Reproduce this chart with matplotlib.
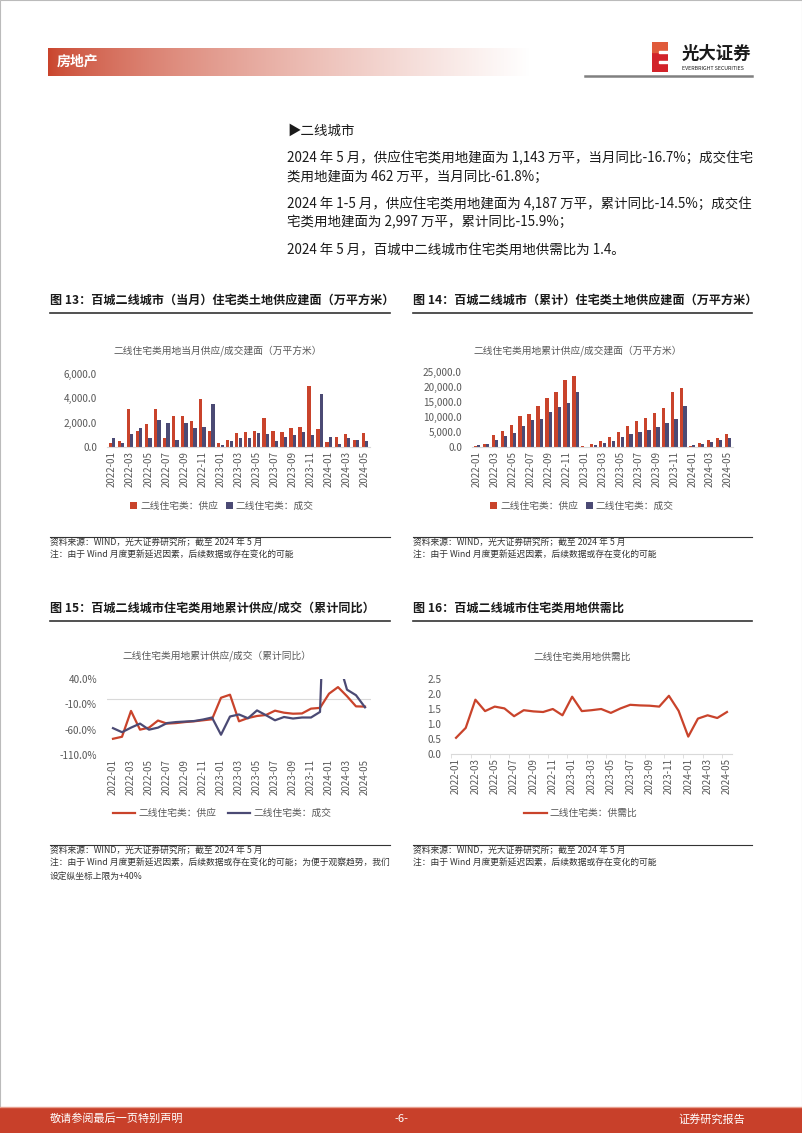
import numpy as np
import matplotlib
matplotlib.use("Agg")
import matplotlib.pyplot as plt
from matplotlib.ticker import FuncFormatter
from matplotlib.patches import Rectangle

plt.rcParams['font.family'] = ['Noto Sans CJK SC', 'DejaVu Sans']

# ---- data ----
months = ["2022-01", "2022-02", "2022-03", "2022-04", "2022-05", "2022-06", "2022-07", "2022-08",
          "2022-09", "2022-10", "2022-11", "2022-12", "2023-01", "2023-02", "2023-03", "2023-04",
          "2023-05", "2023-06", "2023-07", "2023-08", "2023-09", "2023-10", "2023-11", "2023-12",
          "2024-01", "2024-02", "2024-03", "2024-04", "2024-05"]

# 当月供应 / 成交 (万平方米)
supply_month = [350, 500, 3100, 1300, 1900, 3150, 700, 2550, 2550, 2150, 3950, 1350,
                350, 550, 1150, 1200, 1350, 2350, 1350, 1250, 1550, 1650, 5050, 1450,
                400, 800, 1050, 550, 1143]
deal_month = [700, 300, 1100, 1550, 750, 2250, 2000, 600, 2000, 1600, 1650, 3550,
              150, 500, 700, 750, 1150, 1100, 500, 800, 950, 1250, 1000, 4350,
              800, 250, 700, 600, 462]

# 累计供应 / 成交 (万平方米)
supply_cum = [350, 900, 4000, 5300, 7200, 10400, 11100, 13600, 16200, 18300, 22300, 23600,
              350, 900, 2100, 3400, 4850, 7100, 8550, 9800, 11400, 13150, 18200, 19600,
              400, 1200, 2300, 2900, 4187]
deal_cum = [700, 1000, 2200, 3800, 4600, 6900, 8900, 9500, 11600, 13200, 14800, 18300,
            150, 650, 1400, 2150, 3300, 4500, 5000, 5800, 6800, 8100, 9200, 13700,
            800, 1000, 1800, 2400, 2997]

# 累计同比 (%)
supply_yoy = [-78, -74, -23, -60, -56, -42, -48, -47, -45, -43.5, -41.5, -39.5,
              3, 9, -43.5, -37, -33, -31, -22.5, -26.5, -28.5, -28, -18.5, -17,
              11, 24, 6, -14, -14.5]
deal_yoy = [-57, -65, -56, -48, -60, -56, -47, -45, -44, -43, -40, -36,
            -70, -34, -30, -37.5, -22, -31.5, -41.5, -35, -38, -36, -36, -25,
            450, 80, 19, 8, -15.9]

# 供需比
ratio = [0.54, 0.87, 1.81, 1.43, 1.58, 1.52, 1.26, 1.46, 1.42, 1.40, 1.50, 1.29,
         1.91, 1.43, 1.46, 1.50, 1.37, 1.52, 1.64, 1.62, 1.61, 1.58, 1.94, 1.44,
         0.58, 1.18, 1.29, 1.20, 1.40]

RED = '#C9432B'
NAVY = '#4B4A74'
GREY = '#595959'
AXC = '#D9D9D9'

W, H = 802, 1133
fig = plt.figure(figsize=(W / 100, H / 100), dpi=100)


def px_axes(l, t, r, b):
    return fig.add_axes([l / W, 1 - b / H, (r - l) / W, (b - t) / H])


def ftext(x, y, s, **kw):
    kw.setdefault('va', 'center')
    fig.text(x / W, 1 - y / H, s, **kw)


def hline(x0, x1, y, **kw):
    fig.add_artist(plt.Line2D([x0 / W, x1 / W], [1 - y / H, 1 - y / H], **kw))


# ---- page frame ----
fig.add_artist(Rectangle((0, 0), 1, 1, transform=fig.transFigure, fill=False,
                         edgecolor='#BBBBBB', linewidth=0.8))

# ---- header ----
hax = px_axes(48, 48, 530, 76)
t = np.linspace(0, 1, 400) ** 0.7
c0 = np.array(matplotlib.colors.to_rgb(RED))
grad = c0[None, :] * (1 - t[:, None]) + np.ones(3)[None, :] * t[:, None]
hax.imshow(grad[None, :, :], aspect='auto', extent=[0, 1, 0, 1])
hax.axis('off')
ftext(57, 62, "房地产", color='white', fontsize=10, fontweight='bold')

lax = px_axes(652, 42, 668, 72)
lax.add_patch(Rectangle((0, 0), 1, 1, color='#D2232A'))
lax.add_patch(Rectangle((0, 0.66), 1, 0.34, color='#E05A3A'))
for yy in [0.30, 0.62]:
    lax.add_patch(Rectangle((0.45, yy), 0.55, 0.07, color='white'))
lax.set_xlim(0, 1)
lax.set_ylim(0, 1)
lax.axis('off')
ftext(682, 54, "光大证券", fontsize=12.5, fontweight='bold', color='#1A1A1A')
ftext(682, 69, "EVERBRIGHT SECURITIES", fontsize=3.8, color='#1A1A1A')
hline(585, 752, 76, color='#808080', linewidth=1.8)

# ---- body text ----
body = [
    (131, "▶二线城市"),
    (158, "2024 年 5 月，供应住宅类用地建面为 1,143 万平，当月同比-16.7%；成交住宅"),
    (177, "类用地建面为 462 万平，当月同比-61.8%；"),
    (204, "2024 年 1-5 月，供应住宅类用地建面为 4,187 万平，累计同比-14.5%；成交住"),
    (222, "宅类用地建面为 2,997 万平，累计同比-15.9%；"),
    (250, "2024 年 5 月，百城中二线城市住宅类用地供需比为 1.4。"),
]
for y, s in body:
    ftext(287, y, s, fontsize=9.7, color='#1A1A1A')

# ---- chart titles and rules ----
titles = [
    (50, 390, 300, "图 13：百城二线城市（当月）住宅类土地供应建面（万平方米）"),
    (413, 752, 300, "图 14：百城二线城市（累计）住宅类土地供应建面（万平方米）"),
    (50, 390, 608, "图 15：百城二线城市住宅类用地累计供应/成交（累计同比）"),
    (413, 752, 608, "图 16：百城二线城市住宅类用地供需比"),
]
for x0, x1, y, s in titles:
    ftext(x0, y, s, fontsize=8.7, fontweight='bold', color='#1A1A1A')
    hline(x0, x1, y + 13, color='#333333', linewidth=1.2)

src = "资料来源：WIND，光大证券研究所；截至 2024 年 5 月"
note = "注：由于 Wind 月度更新延迟因素，后续数据或存在变化的可能"
for x0, x1 in [(50, 390), (413, 752)]:
    hline(x0, x1, 537, color='#333333', linewidth=0.8)
    ftext(x0, 543, src, fontsize=6.3, color='#333333')
    ftext(x0, 555, note, fontsize=6.3, color='#333333')
hline(50, 390, 845, color='#333333', linewidth=0.8)
ftext(50, 851, src, fontsize=6.3, color='#333333')
ftext(50, 863, note + "；为便于观察趋势，我们", fontsize=6.3, color='#333333')
ftext(50, 876, "设定纵坐标上限为+40%", fontsize=6.3, color='#333333')
hline(413, 752, 845, color='#333333', linewidth=0.8)
ftext(413, 851, src, fontsize=6.3, color='#333333')
ftext(413, 863, note, fontsize=6.3, color='#333333')

x = np.arange(len(months))
even = x[::2]
even_labels = months[::2]


def style_axes(ax):
    for s in ['top', 'right', 'left']:
        ax.spines[s].set_visible(False)
    ax.spines['bottom'].set_color(AXC)
    ax.tick_params(axis='y', length=0, labelsize=7.2, colors=GREY, pad=7)
    ax.tick_params(axis='x', length=0, labelsize=7, colors=GREY, pad=3)
    ax.set_xticks(even)
    ax.set_xticklabels(even_labels, rotation=90)
    ax.patch.set_alpha(0)


def bar_chart(ax, sup, deal, ymax, step, title, tx, legx):
    ax.bar(x - 0.19, sup, width=0.36, color=RED, label="二线住宅类：供应")
    ax.bar(x + 0.19, deal, width=0.36, color=NAVY, label="二线住宅类：成交")
    ax.set_ylim(0, ymax)
    ax.set_yticks(np.arange(0, ymax + 1, step))
    ax.yaxis.set_major_formatter(FuncFormatter(lambda v, p: f"{v:,.1f}"))
    ax.set_xlim(-0.6, 28.6)
    style_axes(ax)
    ftext(tx, 351, title, fontsize=7, color=GREY, ha='center')
    ax.legend(loc='center', bbox_to_anchor=(legx / W, 1 - 506 / H), bbox_transform=fig.transFigure,
              ncol=2, frameon=False, fontsize=7, labelcolor=GREY, handlelength=0.7,
              handleheight=0.7, handletextpad=0.3, columnspacing=0.8)


ax13 = px_axes(106.6, 374, 370.4, 447)
bar_chart(ax13, supply_month, deal_month, 6000, 2000,
          "二线住宅类用地当月供应/成交建面（万平方米）", 218, 222)

ax14 = px_axes(471.6, 372, 733.4, 447)
bar_chart(ax14, supply_cum, deal_cum, 25000, 5000,
          "二线住宅类用地累计供应/成交建面（万平方米）", 578, 582)

# ---- chart 15 ----
ax15 = px_axes(106.7, 679, 371.3, 755)
ax15.plot(x, supply_yoy, color=RED, linewidth=1.6, label="二线住宅类：供应")
ax15.plot(x, deal_yoy, color=NAVY, linewidth=1.6, label="二线住宅类：成交")
ax15.axhline(0, color=AXC, linewidth=0.8, zorder=0)
ax15.set_ylim(-110, 40)
ax15.set_yticks([-110, -60, -10, 40])
ax15.yaxis.set_major_formatter(FuncFormatter(lambda v, p: f"{v:.1f}%"))
ax15.set_xlim(-0.7, 28.7)
style_axes(ax15)
ax15.spines['bottom'].set_visible(False)
ftext(217, 656, "二线住宅类用地累计供应/成交（累计同比）", fontsize=7, color=GREY, ha='center')
ax15.legend(loc='center', bbox_to_anchor=(222 / W, 1 - 813 / H), bbox_transform=fig.transFigure,
            ncol=2, frameon=False, fontsize=7, labelcolor=GREY, handlelength=2.3,
            handletextpad=0.3, columnspacing=1.2)

# ---- chart 16 ----
ax16 = px_axes(451.2, 679, 731.8, 754)
ax16.plot(x, ratio, color=RED, linewidth=1.6, label="二线住宅类：供需比")
ax16.set_ylim(0, 2.5)
ax16.set_yticks([0, 0.5, 1.0, 1.5, 2.0, 2.5])
ax16.yaxis.set_major_formatter(FuncFormatter(lambda v, p: f"{v:.1f}"))
ax16.set_xlim(-0.5, 28.5)
style_axes(ax16)
ax16.set_xticks(np.arange(-0.5, 29, 2), minor=True)
ax16.tick_params(axis='x', which='minor', length=3, color=AXC)
ftext(582, 657, "二线住宅类用地供需比", fontsize=7, color=GREY, ha='center')
ax16.legend(loc='center', bbox_to_anchor=(581 / W, 1 - 813 / H), bbox_transform=fig.transFigure,
            frameon=False, fontsize=7, labelcolor=GREY, handlelength=2.3, handletextpad=0.3)

# ---- footer ----
fig.add_artist(Rectangle((0, 0), 1, (H - 1108) / H, transform=fig.transFigure,
                         color='#C8402A', linewidth=0))
hline(0, W, 1107, color='#E8A090', linewidth=1.0)
ftext(50, 1119, "敬请参阅最后一页特别声明", fontsize=8, color='white')
ftext(401, 1119, "-6-", fontsize=8, color='white', ha='center')
ftext(745, 1119, "证券研究报告", fontsize=8, color='white', ha='right')

fig.savefig("out.png", dpi=100)
